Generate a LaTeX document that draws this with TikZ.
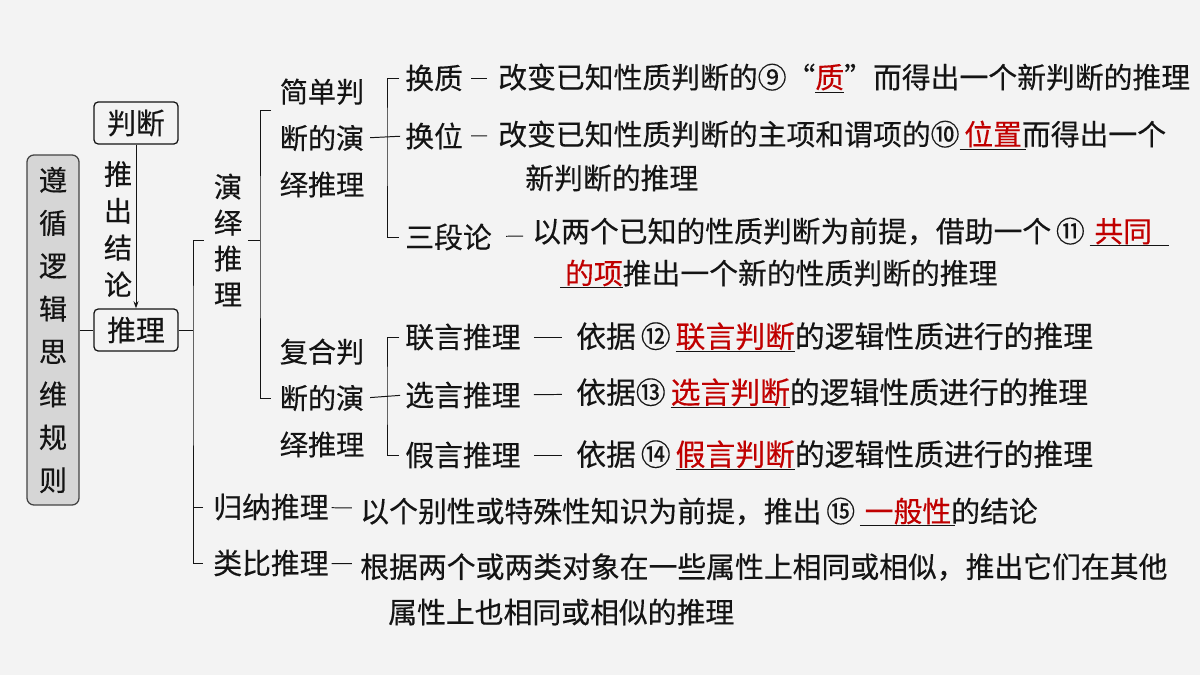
\documentclass[tikz,border=0pt]{standalone}
\usepackage{xcolor}
\usepackage{fontspec}
\setmainfont{Noto Sans CJK SC}[FakeBold=0.35]
\usetikzlibrary{arrows.meta, positioning}

\definecolor{bgcol}{RGB}{243,243,243}
\definecolor{inkcol}{RGB}{20,20,20}
\definecolor{ansred}{RGB}{192,0,0}
\definecolor{rootfill}{RGB}{214,214,214}

% red answer with a line under it
\newbox\ansbox
\newcommand{\ans}[2][0pt]{\setbox\ansbox=\hbox{\textcolor{ansred}{#2}}\rlap{\rule[-3pt]{\dimexpr\wd\ansbox+#1\relax}{0.6pt}}\box\ansbox}

\begin{document}
\begin{tikzpicture}[
    x=0.025cm, y=-0.025cm,
    % Yahan text styles
    txt/.style={inner sep=0, anchor=west, text=inkcol, font=\fontsize{20.5pt}{24pt}\selectfont},
    bigtxt/.style={txt, font=\fontsize{21.2pt}{24pt}\selectfont},
    stack/.style={inner sep=0, align=center, text=inkcol, font=\fontsize{20pt}{#1}\selectfont},
    block/.style={
        rectangle,
        draw=inkcol,
        line width=0.9pt,
        rounded corners=3pt,
        minimum width=2.1cm,
        minimum height=1.05cm,
        text=inkcol,
        font=\fontsize{20.5pt}{24pt}\selectfont
    },
    line/.style={draw=inkcol, line width=0.7pt}
]
    \path [fill=bgcol] (0,0) rectangle (1200,675);

    % Nodes
    \node [block, fill=rootfill, draw=inkcol!80, minimum width=1.3cm, minimum height=8.75cm, rounded corners=5pt, align=center, font=\fontsize{20pt}{30.5pt}\selectfont] (root) at (53,330) {遵\\循\\逻\\辑\\思\\维\\规\\则};
    \node [block] (panduan) at (136,123) {判断};
    \node [block] (tuili) at (136,330) {推理};
    \node [stack=26.2pt] (tuichu) at (118,229) {推\\出\\结\\论};
    \node [stack=25.5pt] (yanyi) at (228,240) {演\\绎\\推\\理};
    \node [stack=33pt] (jiandan) at (322,138) {简单判\\断的演\\绎推理};
    \node [stack=33pt] (fuhe) at (322,398) {复合判\\断的演\\绎推理};

    \node [txt] (huanzhi) at (405,78) {换质};
    \node [txt] (d-huanzhi) at (498,78) {改变已知性质判断的⑨“\ans{质}”而得出一个新判断的推理};
    \node [txt] (huanwei) at (405,136) {换位};
    \node [txt] (d-huanwei) at (498,135) {改变已知性质判断的主项和谓项的⑩\ans[3pt]{\,位置}而得出一个};
    \node [txt] (d-huanwei2) at (525,178) {新判断的推理};
    \node [txt] (sanduan) at (405,237) {三段论};
    \node [txt] (d-sanduan) at (532,232) {以两个已知的性质判断为前提，借助一个\,⑪\,\ans[12pt]{\,共同}};
    \node [txt] (d-sanduan2) at (560,274) {\ans{\,的项}推出一个新的性质判断的推理};

    \node [txt] (lianyan) at (405,337) {联言推理};
    \node [bigtxt] (d-lianyan) at (576,337) {依据\,⑫\,\ans{联言判断}的逻辑性质进行的推理};
    \node [txt] (xuanyan) at (405,395) {选言推理};
    \node [bigtxt] (d-xuanyan) at (576,393) {依据⑬\,\ans{选言判断}的逻辑性质进行的推理};
    \node [txt] (jiayan) at (405,455) {假言推理};
    \node [bigtxt] (d-jiayan) at (576,455) {依据\,⑭\,\ans{假言判断}的逻辑性质进行的推理};

    \node [txt] (guina) at (213,507) {归纳推理};
    \node [txt] (d-guina) at (360,512) {以个别性或特殊性知识为前提，推出\,⑮\,\ans[3pt]{\,一般性}的结论};
    \node [txt] (leibi) at (213,563) {类比推理};
    \node [txt] (d-leibi) at (360,567) {根据两个或两类对象在一些属性上相同或相似，推出它们在其他};
    \node [txt] (d-leibi2) at (388,612) {属性上也相同或相似的推理};

    % spine points
    \coordinate (s1) at (193,330);
    \coordinate (s2) at (260,240);
    \coordinate (s3) at (387,136);
    \coordinate (s4) at (387,395);

    % Paths
    \path [line] (root) -- (tuili);
    \path [line, -{Stealth[length=5pt, width=3.5pt]}] (panduan) -- (tuili);
    \path [line] (tuili.east) -- (s1);
    \path [line, shorten <=7pt, shorten >=7pt] (yanyi.west) -| (s1) |- (leibi.west);
    \path [line, shorten <=7pt] (guina.west) -- (guina.west -| s1);

    \path [line, shorten <=4pt] (yanyi.east) -- (s2);
    \path [line, shorten <=6pt, shorten >=6pt] ([yshift=0.675cm]jiandan.west) -| (s2) |- (fuhe.west);

    \path [line, shorten <=4pt, shorten >=3.5pt] (jiandan.east) -- (huanwei.west);
    \path [line, shorten <=4pt, shorten >=4pt] (huanzhi.west) -| (s3) |- (sanduan.west);
    \path [line, shorten <=4pt, shorten >=3.5pt] (fuhe.east) -- (xuanyan.west);
    \path [line, shorten <=4pt, shorten >=4pt] (lianyan.west) -| (s4) |- (jiayan.west);

    % short dashes
    \path [line, shorten <=5.7pt, shorten >=7.8pt] (huanzhi) -- (d-huanzhi);
    \path [line, shorten <=5.7pt, shorten >=7.8pt] (huanwei) -- (d-huanwei);
    \path [line, shorten <=10pt, shorten >=6.4pt] (sanduan) -- (d-sanduan);
    \path [line, shorten <=9.2pt, shorten >=10pt] (lianyan) -- (d-lianyan);
    \path [line, shorten <=9.2pt, shorten >=10pt] (xuanyan) -- (d-xuanyan);
    \path [line, shorten <=9.2pt, shorten >=10pt] (jiayan) -- (d-jiayan);
    \path [line, shorten <=2pt, shorten >=5.7pt] (guina) -- (d-guina);
    \path [line, shorten <=2pt, shorten >=5.7pt] (leibi) -- (d-leibi);
\end{tikzpicture}
\end{document}
